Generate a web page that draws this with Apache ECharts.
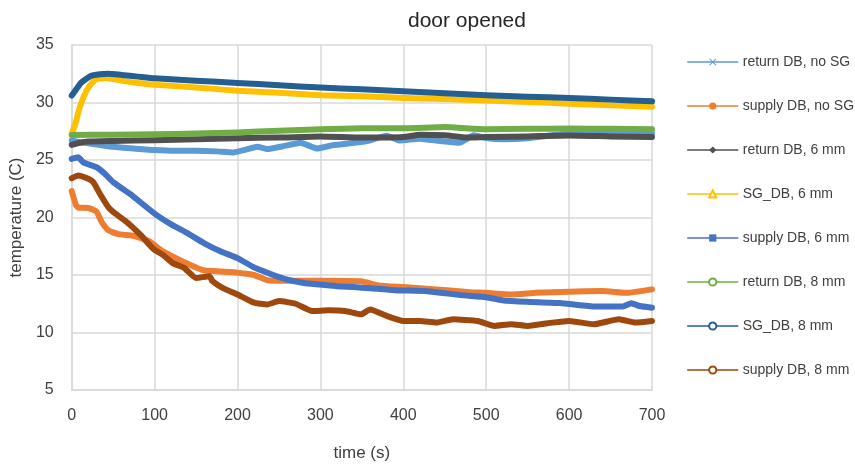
<!DOCTYPE html>
<html>
<head>
<meta charset="utf-8">
<script src="https://cdn.jsdelivr.net/npm/echarts@6/dist/echarts.min.js"></script>
<style>
html,body{margin:0;padding:0;background:#fff;}
#chart{width:855px;height:467px;}
</style>
</head>
<body>
<div id="chart"></div>
<script>
// ---- data (time in s, temperature in C) ----
var seriesNames = ['return DB, no SG','supply DB, no SG','return DB, 6 mm','SG_DB, 6 mm','supply DB, 6 mm','return DB, 8 mm','SG_DB, 8 mm','supply DB, 8 mm'];

var retNoSG_t = [0,10,20,35,50,75,100,125,150,175,195,210,224,236,255,276,296,316,336,356,380,396,420,444,468,485,500,520,550,600,650,700];
var retNoSG_v = [26.7,26.55,26.45,26.3,26.15,26.0,25.86,25.8,25.8,25.75,25.65,25.9,26.15,25.95,26.2,26.5,26.0,26.3,26.45,26.65,27.1,26.7,26.85,26.65,26.5,27.15,26.9,26.8,26.9,27.3,27.35,27.3];

var supNoSG_t = [0,5,8,20,30,36,44,56,70,80,94,110,130,150,160,180,200,220,236,260,300,349,370,400,440,480,500,530,560,600,640,670,700];
var supNoSG_v = [22.3,21.1,20.85,20.83,20.5,19.63,18.9,18.55,18.45,18.3,17.9,17.05,16.3,15.66,15.4,15.3,15.2,15.0,14.55,14.5,14.5,14.45,14.1,13.95,13.75,13.5,13.45,13.3,13.45,13.55,13.6,13.45,13.75];

var ret6_t = [0,10,20,50,100,150,200,250,300,350,400,420,450,477,500,550,600,650,700];
var ret6_v = [26.32,26.5,26.6,26.65,26.72,26.8,26.9,26.95,27.05,26.95,27.0,27.2,27.15,26.95,27.0,27.05,27.13,27.05,27.0];

var sg6_t = [0,5,9,15,21,29,40,50,60,80,100,150,200,250,300,349,400,450,500,550,600,650,700];
var sg6_v = [27.24,28.3,29.4,30.6,31.4,32.0,32.1,32.05,31.9,31.7,31.55,31.3,31.03,30.85,30.63,30.55,30.4,30.3,30.17,30.05,29.89,29.75,29.63];

var sup6_t = [0,8,14,30,40,50,70,100,120,140,160,180,200,220,240,260,280,300,320,340,360,389,429,469,500,521,549,589,629,665,675,685,700];
var sup6_v = [25.09,25.23,24.8,24.37,23.8,23.07,22.07,20.34,19.4,18.62,17.76,17.04,16.47,15.66,15.09,14.6,14.31,14.17,14.02,13.95,13.85,13.68,13.59,13.25,13.07,12.79,12.67,12.56,12.27,12.27,12.55,12.3,12.16];

var ret8_t = [0,50,100,150,200,250,300,350,400,450,500,550,600,650,700];
var ret8_v = [27.18,27.2,27.24,27.3,27.39,27.55,27.67,27.76,27.76,27.87,27.67,27.72,27.73,27.72,27.67];

var sg8_t = [0,5,11,23,34,43,60,80,100,150,200,250,300,350,400,450,500,550,600,650,700];
var sg8_v = [30.6,31.1,31.7,32.3,32.45,32.5,32.4,32.25,32.1,31.9,31.7,31.5,31.3,31.15,30.98,30.8,30.63,30.5,30.4,30.25,30.1];

var sup8_t = [0,8,20,26,34,44,50,66,84,94,100,110,122,136,150,166,170,182,200,220,236,250,270,290,310,330,349,360,380,400,420,440,460,490,510,530,550,580,600,630,660,680,700];
var sup8_v = [23.42,23.65,23.36,23.07,22.07,20.92,20.49,19.63,18.42,17.61,17.18,16.75,16.03,15.6,14.74,14.89,14.45,13.88,13.3,12.59,12.44,12.73,12.5,11.87,11.93,11.87,11.58,12.0,11.44,11.0,11.0,10.86,11.15,11.0,10.57,10.72,10.57,10.86,11.0,10.72,11.15,10.86,11.0];

var xTicks = [0,100,200,300,400,500,600,700];
var yTicks = [5,10,15,20,25,30,35];

var colors = ['#5B9BD5','#ED7D31','#505050','#FFC000','#4472C4','#70AD47','#255E91','#9E480E'];
var symbols = [
  'path://M0,1L1,0L5,4L9,0L10,1L6,5L10,9L9,10L5,6L1,10L0,9L4,5Z',
  'circle',
  'diamond',
  'emptyTriangle',
  'path://M0,0H10V6H0Z',
  'emptyCircle',
  'emptyCircle',
  'emptyCircle'
];
var tArr = [retNoSG_t,supNoSG_t,ret6_t,sg6_t,sup6_t,ret8_t,sg8_t,sup8_t];
var vArr = [retNoSG_v,supNoSG_v,ret6_v,sg6_v,sup6_v,ret8_v,sg8_v,sup8_v];

function pairs(t, v){ return t.map(function(x,i){ return [x, v[i]]; }); }

var FONT = 'Liberation Sans';
var series = seriesNames.map(function(name, i){
  return {
    name: name,
    type: 'line',
    data: pairs(tArr[i], vArr[i]),
    symbol: symbols[i],
    showSymbol: false,
    smooth: 0.15,
    color: colors[i],
    lineStyle: { width: 6, color: colors[i], cap: 'round', join: 'round' },
    itemStyle: { color: colors[i] },
    emphasis: { disabled: true },
    z: 2 + i
  };
});

var chart = echarts.init(document.getElementById('chart'), null, {renderer: 'canvas'});
chart.setOption({
  animation: false,
  backgroundColor: '#fff',
  textStyle: { fontFamily: FONT },
  title: {
    text: 'door opened',
    left: 403, top: 6,
    textStyle: { fontFamily: FONT, fontSize: 21, fontWeight: 'normal', color: '#262626' }
  },
  grid: { left: 71, top: 45, width: 581, height: 348 },
  legend: {
    orient: 'vertical',
    left: 682, top: 50,
    itemWidth: 50, itemHeight: 9, itemGap: 30,
    textStyle: { fontFamily: FONT, fontSize: 14, color: '#404040' },
    lineStyle: { width: 1.5 },
    data: seriesNames
  },
  xAxis: {
    type: 'value', min: 0, max: 700, interval: 100,
    name: 'time (s)', nameLocation: 'middle', nameGap: 55,
    nameTextStyle: { fontFamily: FONT, fontSize: 17, color: '#404040' },
    axisLine: { show: true, lineStyle: { color: '#d9d9d9', width: 1.5 } },
    axisTick: { show: false },
    axisLabel: { margin: 18, fontSize: 16, color: '#404040', fontFamily: FONT,
      formatter: function(v){ return xTicks.indexOf(v) >= 0 ? String(v) : ''; } },
    splitLine: { show: true, lineStyle: { color: '#d9d9d9', width: 1.5 } }
  },
  yAxis: {
    type: 'value', min: 5, max: 35, interval: 5,
    name: 'temperature (C)', nameLocation: 'middle', nameGap: 41,
    nameTextStyle: { fontFamily: FONT, fontSize: 17, color: '#404040' },
    axisLine: { show: true, lineStyle: { color: '#d9d9d9', width: 1.5 } },
    axisTick: { show: false },
    axisLabel: { margin: 18, fontSize: 16, color: '#404040', fontFamily: FONT,
      formatter: function(v){ return yTicks.indexOf(v) >= 0 ? String(v) : ''; } },
    splitLine: { show: true, lineStyle: { color: '#d9d9d9', width: 1.5 } }
  },
  series: series
});
</script>
</body>
</html>
